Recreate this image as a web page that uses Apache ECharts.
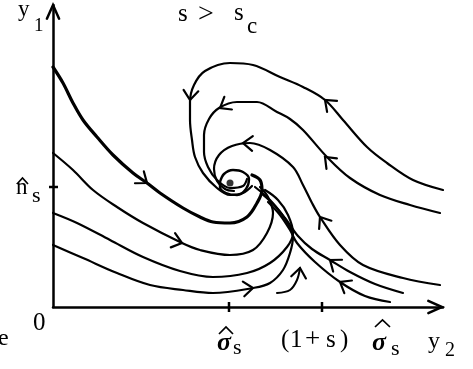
<!DOCTYPE html>
<html>
<head>
<meta charset="utf-8">
<script src="https://cdn.jsdelivr.net/npm/echarts@6/dist/echarts.min.js"></script>
<style>
  html, body { margin: 0; padding: 0; background: #fff; }
  #c { width: 473px; height: 369px; }
</style>
</head>
<body>
<div id="c"></div>
<script>
// Phase portrait in the (y2, y1) plane; coordinates are plot units.
const xMax = 390, yMax = 302;
const sigmaHat = 176;          // σ̂s on the y2 axis
const sigmaHatShifted = 269;   // (1+s)σ̂s on the y2 axis
const nHat = 120;              // n̂s on the y1 axis

// Trajectories, each listed in the direction of the flow.
const outerLoop = [[390,117],[360,127],[334,144],[314,160],[290,187],[272,207],[250,220],[227,230],[200,242],[177,244],[152,236],[141,222],[137,205],[137,187],[139,167],[142,150],[150,134],[164,119],[177,112],[190,114],[199,121]];
const middleLoop = [[387,94],[357,102],[327,112],[297,129],[274,150],[250,177],[237,188],[224,195],[204,205],[184,205],[166,199],[156,188],[151,172],[151,155],[155,140],[164,127],[177,119],[190,121],[194,128]];
const innerLoop = [[387,22],[350,29],[310,42],[287,62],[267,90],[259,104],[250,122],[240,140],[217,157],[197,164],[179,161],[166,152],[161,138],[164,126],[172,118],[181,116]];
const focusRing = [[167,125],[171,133],[180,137],[190,135],[196,128],[193,118],[184,112],[173,114],[167,120],[167,125]];
const fromTop = [[0,240],[10,224],[20,204],[30,187],[44,170],[60,152],[80,134],[94,124],[107,114],[130,99],[147,90],[160,85],[177,84],[194,90],[204,104],[209,117],[207,127],[199,132]];
const fromSecond = [[0,154],[20,137],[40,117],[64,100],[90,84],[129,64],[147,57],[177,52],[200,57],[214,74],[220,94],[215,110],[207,120]];
const fromThird = [[0,94],[24,84],[57,67],[90,50],[127,36],[160,30],[194,34],[217,44],[234,60],[240,74],[235,92],[225,107],[212,117]];
const fromFourth = [[0,62],[30,49],[64,34],[97,22],[130,17],[160,14],[200,19],[217,24],[230,37],[237,54],[240,70],[234,85],[222,101],[209,113]];
const shortArc = [[224,14],[237,17],[244,27],[247,39]];
const rightUpper = [[350,14],[322,23],[297,35],[277,47],[259,58],[245,71],[232,89],[217,107],[202,120]];
const rightLower = [[337,5],[312,11],[287,25],[262,45],[244,64],[237,77],[227,92],[215,105]];
const focusPoint = [[177,124]];

// Flow arrows: [x, y, dx, dy] with (dx, dy) the direction of travel.
const flowArrows = [
  [137,207,-0.1,-1], [272,207,-1,0.9],
  [167,199,-1,-0.6], [272,150,-1,1.0],
  [190,164,-1,0.05], [267,90,-0.67,1],
  [94,124,1,-0.75], [129,64,1,-0.3],
  [200,19,1,0.1], [247,39,0.15,1],
  [277,47,-1,0.75], [287,25,-1,0.6]
];
// Axis arrowheads and tick marks.
const axisHeads = [[xMax - 1, 0, 1, 0], [0, yMax, 0, 1]];
const xTicks = [sigmaHat, sigmaHatShifted];
const yTicks = [nHat];

const chart = echarts.init(document.getElementById('c'), null, { renderer: 'canvas' });

function chevron(arm, halfDeg, width) {
  const h = halfDeg * Math.PI / 180;
  return function (params, api) {
    const p = api.coord([api.value(0), api.value(1)]);
    const q = api.coord([api.value(0) + api.value(2), api.value(1) + api.value(3)]);
    let dx = q[0] - p[0], dy = q[1] - p[1];
    const len = Math.hypot(dx, dy) || 1;
    const bx = -dx / len, by = -dy / len;
    const rot = a => [bx * Math.cos(a) - by * Math.sin(a), bx * Math.sin(a) + by * Math.cos(a)];
    const r1 = rot(h), r2 = rot(-h);
    return {
      type: 'polyline',
      shape: { points: [[p[0] + r1[0] * arm, p[1] + r1[1] * arm], p, [p[0] + r2[0] * arm, p[1] + r2[1] * arm]] },
      style: { stroke: '#000', lineWidth: width, fill: null, lineJoin: 'miter', lineCap: 'round' }
    };
  };
}

function tickMark(params, api) {
  const p = api.coord([api.value(0), api.value(1)]);
  const vertical = api.value(2) === 0;
  const pts = vertical ? [[p[0], p[1] - 5], [p[0], p[1] + 5]] : [[p[0] - 4, p[1]], [p[0] + 5, p[1]]];
  return { type: 'polyline', shape: { points: pts }, style: { stroke: '#000', lineWidth: 2.5, fill: null } };
}

function trajectory(pts, w) {
  return {
    type: 'line', data: pts, smooth: 0.35, showSymbol: false, symbol: 'none',
    lineStyle: { color: '#000', width: w, cap: 'round', join: 'round' },
    silent: true, z: 3
  };
}

const serif = '"Liberation Serif", "DejaVu Serif", serif';
function txt(text, x, baseline, fs, extra) {
  return {
    type: 'text', x: x, y: baseline - 0.34 * fs, silent: true,
    style: Object.assign({
      text: text, fontSize: fs, fontFamily: serif, fill: '#000',
      textAlign: 'left', textVerticalAlign: 'middle', align: 'left', verticalAlign: 'middle'
    }, extra || {})
  };
}
// Circumflex accent drawn as a small caret: left end, apex, right end.
function hat(x0, apexY, width, height) {
  return {
    type: 'polyline', silent: true,
    shape: { points: [[x0, apexY + height], [x0 + width / 2, apexY], [x0 + width, apexY + height]] },
    style: { stroke: '#000', lineWidth: 1.7, fill: null }
  };
}
const sigmaStyle = { fontStyle: 'italic', fontWeight: 'bold' };

chart.setOption({
  animation: false,
  backgroundColor: '#fff',
  grid: { left: 53, top: 5, width: xMax, height: yMax, containLabel: false, outerBoundsMode: 'none' },
  xAxis: {
    type: 'value', min: 0, max: xMax,
    axisLine: { show: true, lineStyle: { color: '#000', width: 2.5 } },
    axisTick: { show: false }, axisLabel: { show: false }, splitLine: { show: false }
  },
  yAxis: {
    type: 'value', min: 0, max: yMax,
    axisLine: { show: true, lineStyle: { color: '#000', width: 2.5 } },
    axisTick: { show: false }, axisLabel: { show: false }, splitLine: { show: false }
  },
  series: [
    trajectory(outerLoop, 2.2),
    trajectory(middleLoop, 2.2),
    trajectory(innerLoop, 2.2),
    trajectory(focusRing, 2.4),
    trajectory(fromTop, 3.2),
    trajectory(fromSecond, 2.2),
    trajectory(fromThird, 2.2),
    trajectory(fromFourth, 2.2),
    trajectory(shortArc, 2.0),
    trajectory(rightUpper, 2.2),
    trajectory(rightLower, 2.2),
    { type: 'scatter', data: focusPoint, symbol: 'circle', symbolSize: 7, itemStyle: { color: '#000' }, silent: true, z: 4 },
    { type: 'custom', data: flowArrows, renderItem: chevron(12, 38, 2.2), silent: true, z: 5 },
    { type: 'custom', data: axisHeads, renderItem: chevron(15, 24, 2.5), silent: true, z: 5 },
    { type: 'custom', data: xTicks.map(v => [v, 0, 0]).concat(yTicks.map(v => [0, v, 1])), renderItem: tickMark, silent: true, z: 5 }
  ],
  graphic: [
    txt('y', 18, 18, 23),
    txt('1', 34, 32, 19),
    txt('s', 178, 23, 25),
    txt('>', 198, 24, 28),
    txt('s', 234, 22, 25),
    txt('c', 247, 35, 23),
    txt('n', 16, 196, 23),
    hat(17, 178, 11, 6),
    txt('s', 32, 204, 22),
    txt('0', 33, 332, 25),
    txt('\u03C3', 217, 352, 26, sigmaStyle),
    hat(219, 327, 14, 7),
    txt('s', 233, 356, 22),
    txt('(', 281, 349, 25),
    txt('1', 290, 349, 25),
    txt('+', 305, 349, 27),
    txt('s', 326, 349, 25),
    txt(')', 340, 349, 25),
    txt('\u03C3', 372, 352, 26, sigmaStyle),
    hat(375, 320, 15, 7),
    txt('s', 391, 357, 22),
    txt('y', 428, 350, 24),
    txt('2', 445, 358, 20),
    txt('e', -2, 347, 24)
  ]
});
</script>
</body>
</html>
